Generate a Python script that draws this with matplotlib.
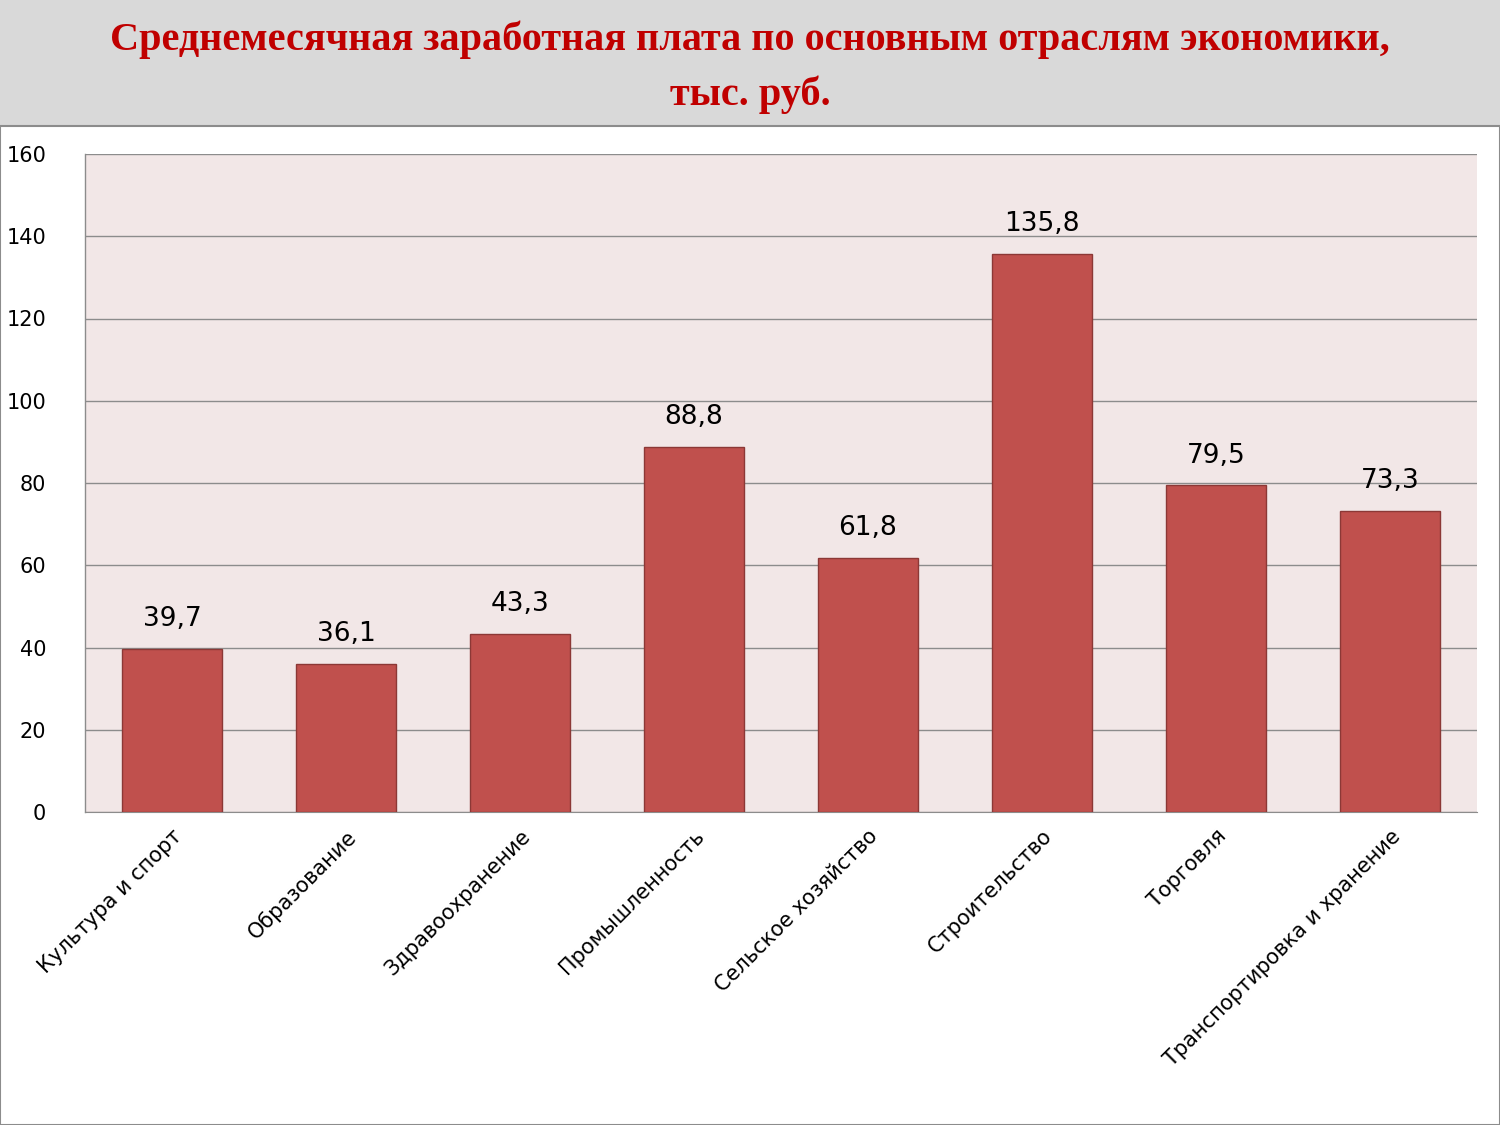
import matplotlib
matplotlib.use("Agg")
import matplotlib.pyplot as plt
from matplotlib.patches import Rectangle

categories = ["Культура и спорт", "Образование", "Здравоохранение", "Промышленность",
              "Сельское хозяйство", "Строительство", "Торговля", "Транспортировка и хранение"]
values = [39.7, 36.1, 43.3, 88.8, 61.8, 135.8, 79.5, 73.3]
yticks = [0, 20, 40, 60, 80, 100, 120, 140, 160]

fig = plt.figure(figsize=(15, 11.25), dpi=100)
fig.patch.set_facecolor("white")
fig.add_artist(Rectangle((0, 1 - 126/1125), 1, 126/1125, transform=fig.transFigure,
                         facecolor="#d9d9d9", edgecolor="none", zorder=0))
fig.add_artist(Rectangle((0, 0), 1, 1 - 126/1125, transform=fig.transFigure,
                         facecolor="none", edgecolor="#8c8c8c", lw=1.5, zorder=1))
fig.text(0.5, 1 - 40/1125, "Среднемесячная заработная плата по основным отраслям экономики,",
         ha="center", va="center", fontsize=29, fontweight="bold",
         family="Liberation Serif", color="#c00000")
fig.text(0.5, 1 - 95/1125, "тыс. руб.", ha="center", va="center", fontsize=29,
         fontweight="bold", family="Liberation Serif", color="#c00000")

ax = fig.add_axes([85/1500, 1 - 812/1125, 1392/1500, 658/1125])
ax.set_facecolor("#f2e7e7")
x = range(len(categories))
ax.bar(x, values, width=0.575, color="#c0504d", edgecolor="#8c3836", lw=1, zorder=3)
for i, v in zip(x, values):
    ax.text(i, v + 4, f"{v:.1f}".replace(".", ","), ha="center", va="bottom",
            fontsize=19, family="DejaVu Sans")
ax.set_xlim(-0.5, len(categories) - 0.5)
ax.set_ylim(0, 160)
ax.set_yticks(yticks)
ax.set_yticklabels([str(t) for t in yticks], fontsize=15)
ax.yaxis.grid(True, color="#8c8c8c", lw=1, zorder=0)
ax.tick_params(axis="y", length=0, pad=28)
ax.tick_params(axis="x", length=0, pad=10)
ax.set_xticks(list(x))
ax.set_xticklabels(categories, rotation=45, ha="right", va="top",
                   rotation_mode="anchor", fontsize=15)
for s in ["top", "right", "left"]:
    ax.spines[s].set_visible(False)
ax.spines["bottom"].set_color("#8c8c8c")
ax.plot([-0.5, -0.5], [0, 160], color="#8c8c8c", lw=1, clip_on=False, zorder=4)

fig.savefig("out.png", dpi=100)
